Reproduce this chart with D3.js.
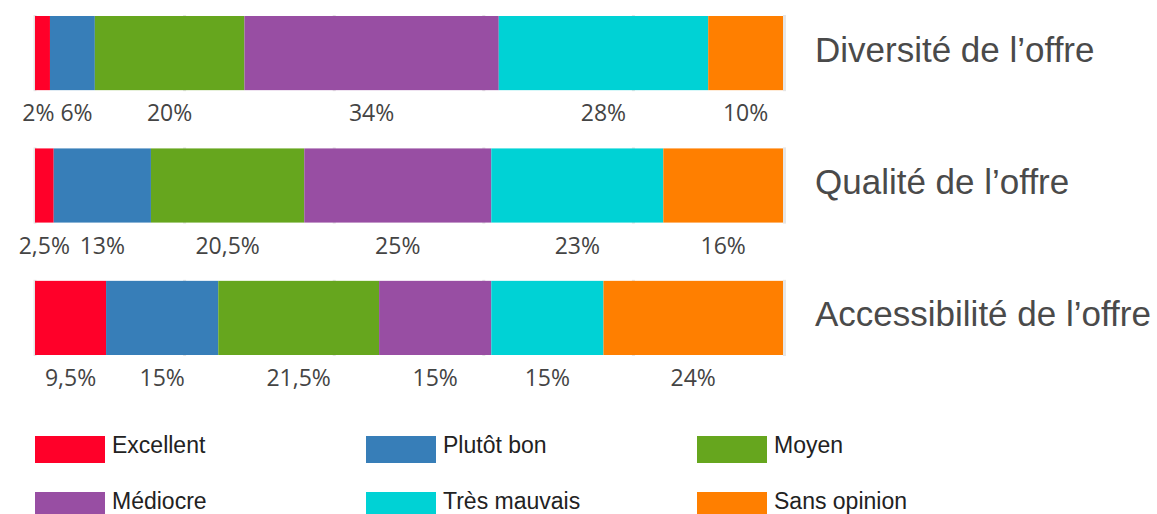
<!DOCTYPE html>
<html>
<head>
<meta charset="utf-8">
<script src="https://cdn.jsdelivr.net/npm/d3@7"></script>
<style>
  html, body { margin: 0; padding: 0; background: #fff; }
  svg { display: block; }
</style>
</head>
<body>
<svg id="chart" width="1157" height="514"></svg>
<script>
// ---- data ----
const categories = ["Diversité de l’offre", "Qualité de l’offre", "Accessibilité de l’offre"];
const seriesNames = ["Excellent", "Plutôt bon", "Moyen", "Médiocre", "Très mauvais", "Sans opinion"];
const excellent  = [2, 2.5, 9.5];
const plutotBon  = [6, 13, 15];
const moyen      = [20, 20.5, 21.5];
const mediocre   = [34, 25, 15];
const tresMauvais= [28, 23, 15];
const sansOpinion= [10, 16, 24];
const colors = ["#ff0029", "#377eb8", "#66a61e", "#984ea3", "#00d2d5", "#ff7f00"];
const xTicks = [0, 20, 40, 60, 80, 100];

// ---- build table ----
const seriesValues = [excellent, plutotBon, moyen, mediocre, tresMauvais, sansOpinion];
const table = categories.map((c, i) => {
  const row = { category: c };
  seriesNames.forEach((s, j) => row[s] = seriesValues[j][i]);
  return row;
});
const stacked = d3.stack().keys(seriesNames)(table);

const svg = d3.select("#chart");
const x = d3.scaleLinear().domain([0, 100]).range([35, 783]);
const y = d3.scaleBand().domain(categories).range([16, 355]).paddingInner(0.44).paddingOuter(0);
const color = d3.scaleOrdinal().domain(seriesNames).range(colors);
const fmt = v => String(v).replace(".", ",") + "%";

// faint gridlines behind each bar
const gridG = svg.append("g");
categories.forEach(c => {
  gridG.selectAll(null).data(xTicks).join("line")
    .attr("x1", d => x(d) + (d === 100 ? 1.5 : 0))
    .attr("x2", d => x(d) + (d === 100 ? 1.5 : 0))
    .attr("y1", y(c) - 1).attr("y2", y(c) + y.bandwidth() + 1)
    .attr("stroke", "#e6e6e6").attr("stroke-width", 3);
});

// bars
svg.append("g").selectAll("g").data(stacked).join("g")
  .attr("fill", d => color(d.key))
  .selectAll("rect").data(d => d).join("rect")
  .attr("x", d => x(d[0]))
  .attr("y", d => y(d.data.category))
  .attr("width", d => x(d[1]) - x(d[0]))
  .attr("height", y.bandwidth());

// value labels (centered under segment, with collision resolution)
const labelG = svg.append("g")
  .attr("font-family", "'Open Sans', 'Noto Sans', sans-serif")
  .attr("font-size", 23)
  .attr("fill", "#444");
categories.forEach((c, i) => {
  const items = stacked.map(s => ({ v: s[i].data[s.key], cx: (x(s[i][0]) + x(s[i][1])) / 2 }));
  const texts = labelG.selectAll(null).data(items).join("text")
    .attr("text-anchor", "middle")
    .attr("y", y(c) + y.bandwidth() + 31)
    .text(d => fmt(d.v));
  texts.each(function(d) { d.w = this.getComputedTextLength(); });
  const gap = 6;
  for (let iter = 0; iter < 20; iter++) {
    for (let k = 0; k < items.length - 1; k++) {
      const a = items[k], b = items[k + 1];
      const overlap = (a.cx + a.w / 2 + gap) - (b.cx - b.w / 2);
      if (overlap > 0) { a.cx -= overlap / 2; b.cx += overlap / 2; }
    }
  }
  texts.attr("x", d => d.cx);
});

// category labels on right
svg.append("g").selectAll("text").data(categories).join("text")
  .attr("x", 815)
  .attr("y", d => y(d) + y.bandwidth() / 2 - 4)
  .attr("dominant-baseline", "central")
  .attr("font-family", "'Liberation Sans', Arial, sans-serif")
  .attr("font-size", 35)
  .attr("fill", "#4a4a4a")
  .text(d => d);

// legend
const legCols = d3.scalePoint().domain([0, 1, 2]).range([35, 697]);
const legRows = d3.scalePoint().domain([0, 1]).range([436, 492]);
const leg = svg.append("g").selectAll("g").data(seriesNames).join("g")
  .attr("transform", (d, i) => `translate(${legCols(i % 3)},${legRows(Math.floor(i / 3))})`);
leg.append("rect").attr("width", 70).attr("height", 27).attr("fill", d => color(d));
leg.append("text")
  .attr("x", 77).attr("y", 9)
  .attr("dominant-baseline", "central")
  .attr("font-family", "'Liberation Sans', Arial, sans-serif")
  .attr("font-size", 23)
  .attr("fill", "#222")
  .text(d => d);
</script>
</body>
</html>
